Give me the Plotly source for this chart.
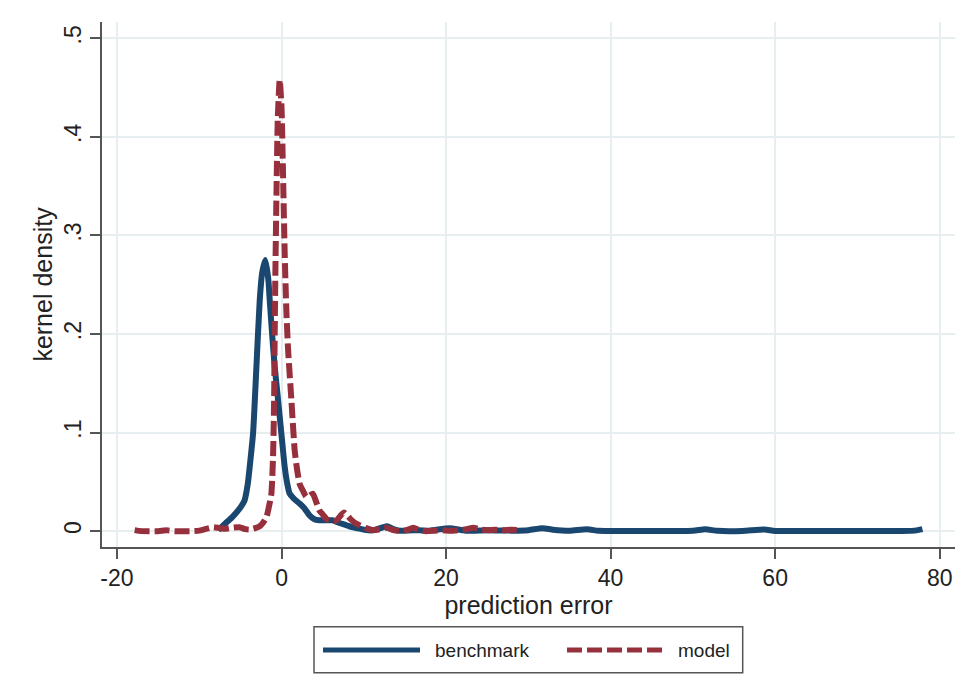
import plotly.graph_objects as go

# ---- data ----
bench_x = [-7.7, -6.8, -5.9, -5.0, -4.5, -4.1, -3.87, -3.46, -3.05, -2.65, -2.35, -1.96,
           -1.6, -1.43, -1.1, -0.83, -0.5, -0.22, 0.1, 0.39, 0.7, 0.99, 1.5, 2.2, 2.8, 3.4,
           4.0, 4.6, 5.4, 6.2, 6.8, 7.9, 8.6, 9.5, 10.3, 11.2, 12.0, 12.8, 13.6, 14.4, 16,
           18, 20.4, 22.4, 25, 28, 30, 31.7, 33, 35, 37.1, 38.5, 40, 45, 50, 51.5, 53, 56,
           58.7, 60, 65, 70, 75, 77, 77.9]
bench_y = [0.001, 0.008, 0.015, 0.024, 0.031, 0.048, 0.065, 0.099, 0.167, 0.234, 0.262, 0.275,
           0.255, 0.234, 0.195, 0.167, 0.14, 0.116, 0.089, 0.065, 0.048, 0.038, 0.033, 0.028,
           0.023, 0.016, 0.012, 0.011, 0.011, 0.011, 0.009, 0.006, 0.004, 0.0025, 0.001, 0.001,
           0.003, 0.005, 0.002, 0.0005, 0.001, 0.0005, 0.003, 0.0005, 0.001, 0.0005, 0.001,
           0.003, 0.0015, 0.0005, 0.002, 0.0003, 0.0002, 0.0002, 0.0003, 0.0018, 0.0003,
           0.0002, 0.0016, 0.0002, 0.0002, 0.0002, 0.0002, 0.0005, 0.002]

model_x = [-17.85, -17, -15, -14, -13, -11, -10, -9.3, -8.3, -7.5, -6.7, -5.9, -5.1, -4.4,
           -3.9, -3.2, -2.65, -2.2, -1.8, -1.45, -1.23, -1.03, -0.9, -0.83, -0.75, -0.6,
           -0.45, -0.22, 0.0, 0.15, 0.39, 0.6, 0.8, 1.2, 1.6, 1.9, 2.2, 2.6, 3.0, 3.4, 3.8,
           4.2, 4.6, 5.0, 5.5, 6.2, 6.7, 7.2, 7.6, 8.3, 9.0, 9.5, 10.3, 11.1, 12.0, 12.8,
           13.6, 14.4, 15.2, 16, 16.8, 17.6, 18.5, 19.5, 20.5, 21.5, 22.5, 23.3, 24.2, 25,
           26, 27, 28, 29.1]
model_y = [0.001, 0.0, 0.0, 0.0008, 0.0, 0.0, 0.0005, 0.002, 0.004, 0.003, 0.0025, 0.0035,
           0.004, 0.002, 0.0015, 0.003, 0.005, 0.009, 0.015, 0.028, 0.038, 0.075, 0.133, 0.2,
           0.26, 0.35, 0.42, 0.458, 0.43, 0.376, 0.28, 0.221, 0.184, 0.133, 0.082, 0.062,
           0.048, 0.041, 0.035, 0.036, 0.038, 0.03, 0.021, 0.017, 0.012, 0.01, 0.011, 0.016,
           0.019, 0.013, 0.008, 0.006, 0.003, 0.001, 0.002, 0.0035, 0.001, 0.0, 0.001, 0.0035,
           0.001, 0.0, 0.0005, 0.0008, 0.0004, 0.001, 0.002, 0.0035, 0.0015, 0.001, 0.0015,
           0.001, 0.0015, 0.001]

x_tickvals = [-20, 0, 20, 40, 60, 80]
x_ticktext = ["-20", "0", "20", "40", "60", "80"]
y_tickvals = [0, 0.1, 0.2, 0.3, 0.4, 0.5]
y_ticktext = ["0", ".1", ".2", ".3", ".4", ".5"]
series_names = ["benchmark", "model"]

NAVY = "#1a476f"
MAROON = "#96303d"
GRID = "#e6eef0"
AXIS = "#555555"
FONT = "Liberation Sans, Arial, sans-serif"

W, H = 972, 694
OFF = 8  # page body margin offset
ML, MR, MT, MB = 94, 25, 14, 155
PW, PH = W - ML - MR, H - MT - MB


def px2paper(px, py):
    """screen pixel -> paper fraction"""
    return (px - OFF - ML) / PW, (H - MB - (py - OFF)) / PH


fig = go.Figure()
fig.add_trace(go.Scatter(x=bench_x, y=bench_y, mode="lines", name=series_names[0],
                         line=dict(color=NAVY, width=6, shape="spline", smoothing=0.6),
                         showlegend=False))
fig.add_trace(go.Scatter(x=model_x, y=model_y, mode="lines", name=series_names[1],
                         line=dict(color=MAROON, width=6, dash="15px,5px",
                                   shape="spline", smoothing=0.5),
                         showlegend=False))

fig.update_layout(
    width=W, height=H,
    margin=dict(l=ML, r=MR, t=MT, b=MB, pad=0),
    paper_bgcolor="white", plot_bgcolor="white",
    font=dict(family=FONT, size=23, color="#222222"),
    xaxis=dict(range=[-21.82, 81.86], tickvals=x_tickvals, ticktext=x_ticktext,
               showgrid=True, gridcolor=GRID, gridwidth=1.5, zeroline=False,
               showline=True, linecolor=AXIS, linewidth=1.5,
               ticks="outside", ticklen=10, tickcolor=AXIS, tickwidth=1.5,
               tickfont=dict(size=23),
               title=dict(text="prediction error", font=dict(size=25), standoff=0)),
    yaxis=dict(range=[-0.0161, 0.5165], tickvals=y_tickvals, ticktext=y_ticktext,
               showgrid=True, gridcolor=GRID, gridwidth=1.5, zeroline=False,
               showline=True, linecolor=AXIS, linewidth=1.5,
               ticks="outside", ticklen=10, tickcolor=AXIS, tickwidth=1.5,
               tickangle=-90, tickfont=dict(size=23),
               title=dict(text="kernel density", font=dict(size=25), standoff=0)),
)

# legend box drawn below the plot, as in the reference
x0, y0 = px2paper(314, 672.7)
x1, y1 = px2paper(742.7, 626.7)
fig.add_shape(type="rect", xref="paper", yref="paper", x0=x0, y0=y0, x1=x1, y1=y1,
              line=dict(color=AXIS, width=1.5), fillcolor="white")
ly = px2paper(0, 650)[1]
lx0, _ = px2paper(323, 0)
lx1, _ = px2paper(420, 0)
fig.add_shape(type="line", xref="paper", yref="paper", x0=lx0, x1=lx1, y0=ly, y1=ly,
              line=dict(color=NAVY, width=5))
rx0, _ = px2paper(567, 0)
rx1, _ = px2paper(663, 0)
fig.add_shape(type="line", xref="paper", yref="paper", x0=rx0, x1=rx1, y0=ly, y1=ly,
              line=dict(color=MAROON, width=5, dash="15px,5px"))
tx, _ = px2paper(433, 0)
fig.add_annotation(xref="paper", yref="paper", x=tx, y=ly, text=series_names[0],
                   showarrow=False, xanchor="left", yanchor="middle",
                   font=dict(size=19, color="#222222"))
tx2, _ = px2paper(676, 0)
fig.add_annotation(xref="paper", yref="paper", x=tx2, y=ly, text=series_names[1],
                   showarrow=False, xanchor="left", yanchor="middle",
                   font=dict(size=19, color="#222222"))

fig.write_html("out.html")
